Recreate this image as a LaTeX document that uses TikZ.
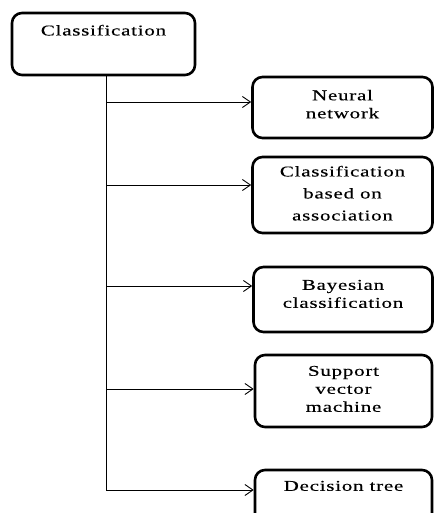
\documentclass[tikz,border=0pt]{standalone}
\usepackage{fontspec}
\usetikzlibrary{arrows.meta}
\newfontfamily\boxfont[FakeStretch=1.4,LetterSpace=5,FakeBold=0.3]{Liberation Serif}
\tikzset{
  box/.style={draw=black, line width=2.6pt, rounded corners=10pt, fill=white, inner sep=0pt},
  lbl/.style={font=\boxfont\fontsize{15}{18}\selectfont, align=center, anchor=north, inner sep=0pt, text=black},
  conn/.style={draw=black, line width=0.9pt},
  arr/.style={conn, -{Straight Barb[length=8pt,width=11pt,line width=0.9pt]}}
}
\begin{document}
\begin{tikzpicture}[x=1pt,y=-1pt]
\useasboundingbox (0,0) rectangle (435,513);
\clip (0,0) rectangle (435,513);
% boxes
\node[box, minimum width=183pt, minimum height=62pt] (root) at (103.5,44) {};
\node[box, minimum width=180pt, minimum height=61pt] (n1) at (342.5,107.5) {};
\node[box, minimum width=180pt, minimum height=76pt] (n2) at (342.5,195) {};
\node[box, minimum width=179pt, minimum height=65pt] (n3) at (343,299.5) {};
\node[box, minimum width=177pt, minimum height=72pt] (n4) at (343.5,391) {};
\node[box, minimum width=177pt, minimum height=70pt] (n5) at (343.5,505) {};
% labels
\node[lbl] (t0) at ([yshift=-13pt]root.north) {Classification};
\node[lbl] (t1) at ([yshift=-14pt]n1.north) {Neural\\network};
\node[lbl, font=\boxfont\fontsize{15}{22}\selectfont] (t2) at ([yshift=-10pt]n2.north) {Classification\\based on\\association};
\node[lbl] (t3) at ([yshift=-14pt]n3.north) {Bayesian\\classification};
\node[lbl] (t4) at ([yshift=-12pt]n4.north) {Support\\vector\\machine};
\node[lbl] (t5) at ([yshift=-12pt]n5.north) {Decision tree};
% trunk
\coordinate (j1) at (106,102);
\coordinate (j2) at (106,185);
\coordinate (j3) at (106,286);
\coordinate (j4) at (106,389);
\coordinate (j5) at (106,490);
\draw[conn] (root.south -| j1) -- (j5);
\draw[arr] (j1) -- (j1 -| n1.west);
\draw[arr] (j2) -- (j2 -| n2.west);
\draw[arr] (j3) -- (j3 -| n3.west);
\draw[arr] (j4) -- (j4 -| n4.west);
\draw[arr] (j5) -- (j5 -| n5.west);
\end{tikzpicture}
\end{document}
